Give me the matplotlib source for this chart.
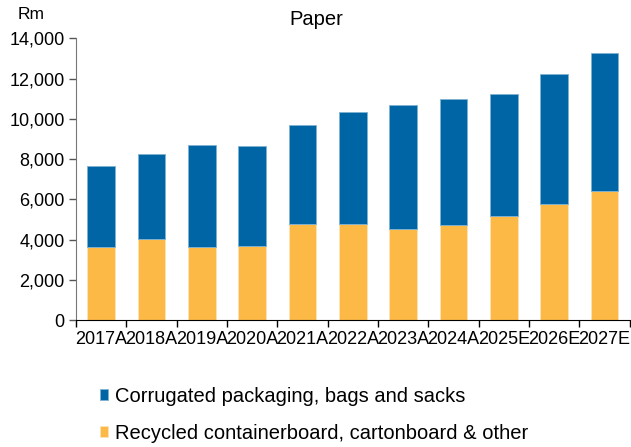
import numpy as np
import matplotlib; matplotlib.use('Agg')
import matplotlib.pyplot as plt
from matplotlib.ticker import FuncFormatter, FixedLocator

plt.rcParams['font.family'] = ['Liberation Sans', 'DejaVu Sans']

years = ['2017A', '2018A', '2019A', '2020A', '2021A', '2022A',
         '2023A', '2024A', '2025E', '2026E', '2027E']
recycled = [3655, 4037, 3640, 3704, 4797, 4782, 4518, 4717, 5179, 5790, 6435]
totals = [7661, 8242, 8689, 8640, 9682, 10328, 10675, 10973, 11251, 12214, 13272]
corrugated = [t - r for t, r in zip(totals, recycled)]

c_blue = '#0065A4'
c_orange = '#FDB946'

fig = plt.figure(figsize=(6.31, 4.47), dpi=100)
ax = fig.add_axes([0.1204, 0.2834, 0.8776, 0.6309])

x = np.arange(len(years))
ax.bar(x, recycled, width=0.55, color=c_orange, edgecolor='#fde3b8', linewidth=0.6,
       label='Recycled containerboard, cartonboard & other')
ax.bar(x, corrugated, width=0.55, bottom=recycled, color=c_blue, edgecolor='#7fb2d2',
       linewidth=0.6, label='Corrugated packaging, bags and sacks')

ax.set_xlim(-0.5, len(years) - 0.5)
ax.set_ylim(0, 14000)
ax.set_yticks(np.arange(0, 14001, 2000))
ax.yaxis.set_major_formatter(FuncFormatter(lambda v, p: f'{v:,.0f}'))

ax.set_xticks(x)
ax.set_xticklabels(years)
ax.xaxis.set_minor_locator(FixedLocator(np.arange(-0.5, len(years), 1.0)))
ax.tick_params(axis='x', which='major', length=0, pad=8, labelsize=13)
ax.tick_params(axis='x', which='minor', length=5, width=1, color='black', direction='out')
ax.tick_params(axis='y', length=5, width=1, color='#555555', labelsize=13, pad=3)

for s in ['top', 'right']:
    ax.spines[s].set_visible(False)
ax.spines['left'].set_color('#777777')
ax.spines['bottom'].set_color('black')

fig.text(0.0285, 0.968, 'Rm', fontsize=12.5, ha='left', va='center')
fig.text(0.502, 0.957, 'Paper', fontsize=14.5, ha='center', va='center')

handles, labels = ax.get_legend_handles_labels()
fig.legend(handles[::-1], labels[::-1], loc='upper left', bbox_to_anchor=(0.158, 0.135),
           bbox_transform=fig.transFigure, frameon=False, fontsize=14.5,
           handlelength=0.4, handleheight=0.4, handletextpad=0.35,
           labelspacing=0.9, borderaxespad=0, borderpad=0)

fig.savefig('out.png', dpi=100)
